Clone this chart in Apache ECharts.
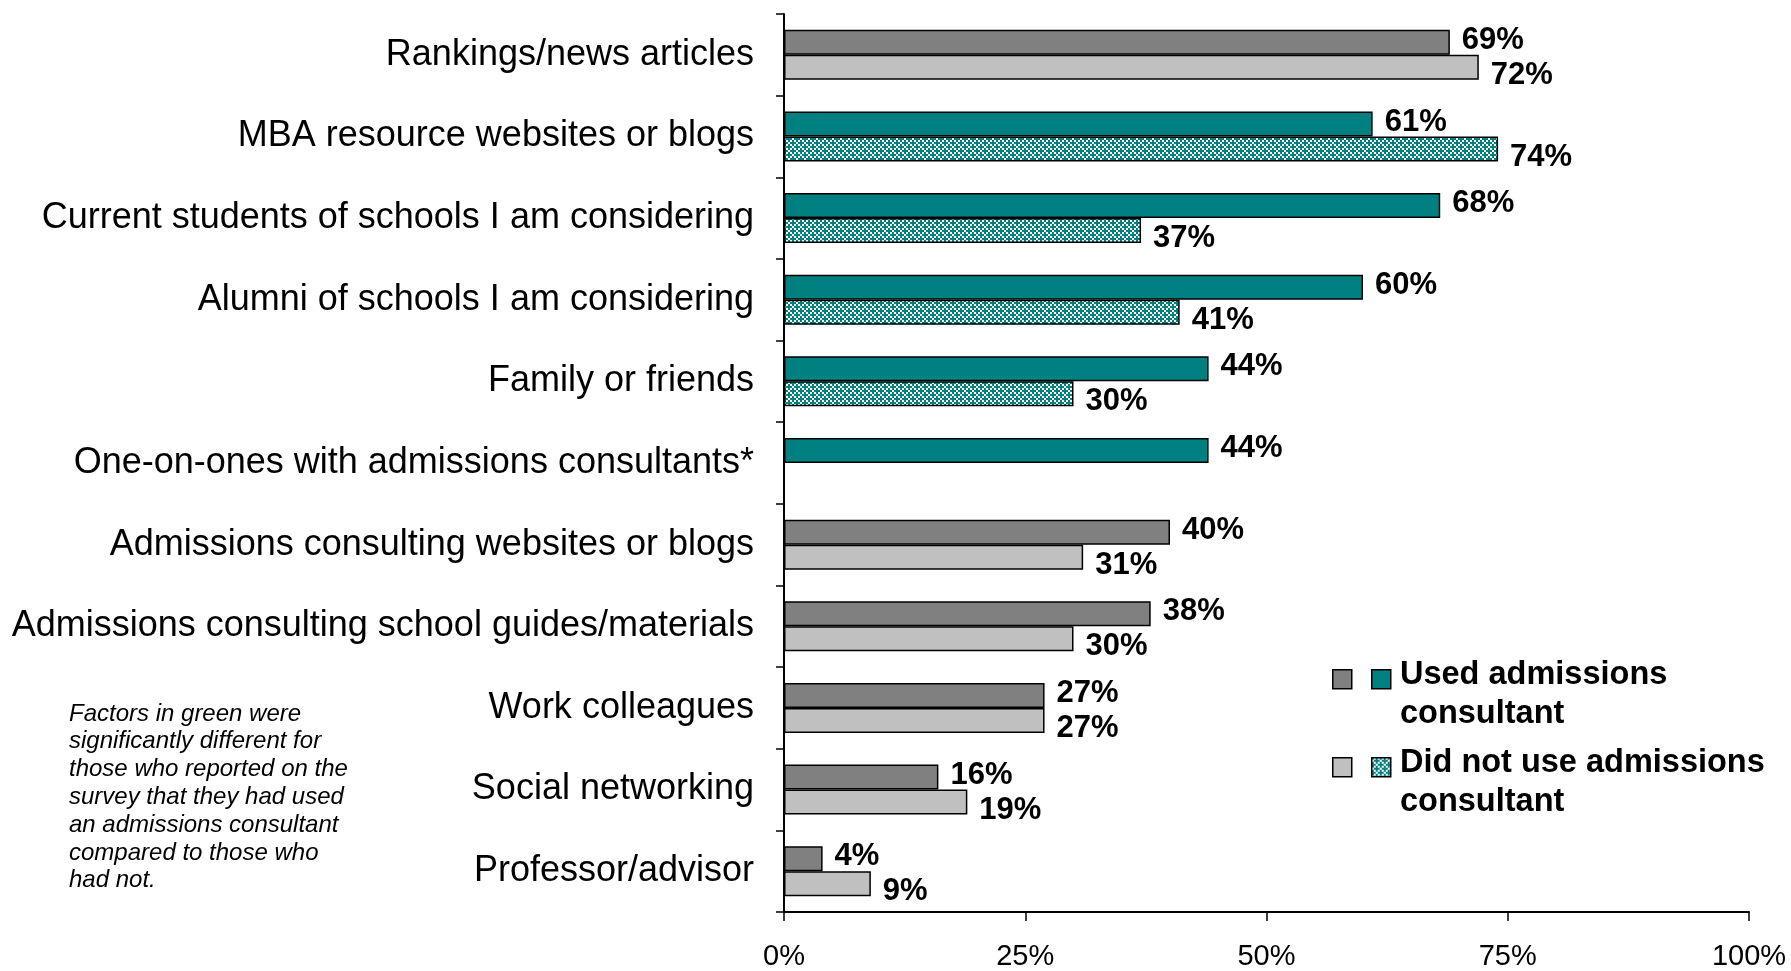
<!DOCTYPE html>
<html>
<head>
<meta charset="utf-8">
<script src="https://cdn.jsdelivr.net/npm/echarts@6/dist/echarts.min.js"></script>
<style>
  html, body { margin: 0; padding: 0; background: #fff; }
  #chart { width: 1791px; height: 971px; }
</style>
</head>
<body>
<div id="chart"></div>
<script>
// Information sources, top to bottom
const categories = [
  'Rankings/news articles',
  'MBA resource websites or blogs',
  'Current students of schools I am considering',
  'Alumni of schools I am considering',
  'Family or friends',
  'One-on-ones with admissions consultants*',
  'Admissions consulting websites or blogs',
  'Admissions consulting school guides/materials',
  'Work colleagues',
  'Social networking',
  'Professor/advisor'
];
// Share of respondents (%) using each source
const usedConsultant    = [69, 61, 68, 60, 44, 44, 40, 38, 27, 16, 4];
const notUsedConsultant = [72, 74, 37, 41, 30, null, 31, 30, 27, 19, 9];
// Sources where the two groups differ significantly (drawn in green)
const significant = [false, true, true, true, true, true, false, false, false, false, false];
const xTicks = [0, 25, 50, 75, 100];
const seriesNames = ['Used admissions consultant', 'Did not use admissions consultant'];
const noteLines = [
  'Factors in green were',
  'significantly different for',
  'those who reported on the',
  'survey that they had used',
  'an admissions consultant',
  'compared to those who',
  'had not.'
];

const TEAL = '#008080';
const DARK_GRAY = '#808080';
const LIGHT_GRAY = '#c0c0c0';
const FONT = "'Liberation Sans', Arial, sans-serif";
const NARROW = "'Liberation Sans Narrow', 'Arial Narrow', 'Liberation Sans', Arial, sans-serif";

// Dotted teal fill for the "did not use" bars of significant sources
function makePattern() {
  const cell = 2;
  const map = [
    '0101',
    '1000',
    '0101',
    '0010'
  ];
  const c = document.createElement('canvas');
  c.width = 4 * cell; c.height = 4 * cell;
  const ctx = c.getContext('2d');
  ctx.fillStyle = TEAL;
  ctx.fillRect(0, 0, c.width, c.height);
  ctx.fillStyle = '#ffffff';
  for (let r = 0; r < 4; r++) {
    for (let k = 0; k < 4; k++) {
      if (map[r][k] === '1') ctx.fillRect(k * cell, r * cell, cell, cell);
    }
  }
  return c;
}
const patternFill = { image: makePattern(), repeat: 'repeat' };

const usedData = usedConsultant.map((v, i) => ({
  value: v,
  itemStyle: { color: significant[i] ? TEAL : DARK_GRAY }
}));
const notUsedData = notUsedConsultant.map((v, i) => ({
  value: v,
  itemStyle: { color: significant[i] ? patternFill : LIGHT_GRAY }
}));

const valueLabel = (dy) => ({
  show: true,
  position: 'right',
  distance: 12,
  offset: [0, dy],
  formatter: (p) => p.value == null ? '' : p.value + '%',
  fontFamily: FONT,
  fontWeight: 'bold',
  fontSize: 31,
  color: '#000'
});

const chart = echarts.init(document.getElementById('chart'), null, { renderer: 'canvas' });

// Hand-built legend: gray swatch, teal swatch, then bold label
const LX1 = 1332, LX2 = 1371, LTX = 1400;
const legendRows = [
  { y: 669, plain: DARK_GRAY, teal: TEAL, text: 'Used admissions\nconsultant' },
  { y: 757, plain: LIGHT_GRAY, teal: patternFill, text: 'Did not use admissions\nconsultant' }
];
const graphics = [];
legendRows.forEach((row) => {
  graphics.push({
    type: 'rect', left: LX1, top: row.y,
    shape: { width: 19, height: 19 },
    style: { fill: row.plain, stroke: '#000', lineWidth: 1.5 }
  });
  graphics.push({
    type: 'rect', left: LX2, top: row.y,
    shape: { width: 19, height: 19 },
    style: { fill: row.teal, stroke: '#000', lineWidth: 1.5 }
  });
  graphics.push({
    type: 'text', left: LTX, top: row.y - 13,
    style: {
      text: row.text, font: 'bold 32.5px ' + FONT, fill: '#000', lineHeight: 39
    }
  });
});
// Significance note at lower left
graphics.push({
  type: 'text', left: 69, top: 700,
  style: {
    text: noteLines.join('\n'),
    font: 'italic 24px ' + NARROW,
    fill: '#000',
    lineHeight: 27.8
  }
});

chart.setOption({
  animation: false,
  backgroundColor: '#ffffff',
  grid: { left: 784, right: 42, top: 14, bottom: 47, containLabel: false },
  xAxis: {
    type: 'value',
    min: xTicks[0],
    max: xTicks[xTicks.length - 1],
    interval: xTicks[1] - xTicks[0],
    splitLine: { show: false },
    axisLine: { show: true, lineStyle: { color: '#000', width: 2 } },
    axisTick: { show: true, length: 9, lineStyle: { color: '#000', width: 1.5 } },
    axisLabel: {
      formatter: '{value}%',
      margin: 30,
      fontFamily: FONT,
      fontSize: 29,
      color: '#000'
    }
  },
  yAxis: {
    type: 'category',
    data: categories,
    inverse: true,
    axisLine: { show: true, lineStyle: { color: '#000', width: 2 } },
    axisTick: { show: true, length: 8, lineStyle: { color: '#000', width: 1.5 } },
    axisLabel: {
      margin: 30,
      fontFamily: FONT,
      fontSize: 36,
      color: '#000'
    }
  },
  series: [
    {
      name: seriesNames[0],
      type: 'bar',
      data: usedData,
      barWidth: 25,
      barGap: '0%',
      itemStyle: { borderColor: '#000', borderWidth: 1.5 },
      label: valueLabel(-2)
    },
    {
      name: seriesNames[1],
      type: 'bar',
      data: notUsedData,
      barWidth: 25,
      barGap: '0%',
      itemStyle: { borderColor: '#000', borderWidth: 1.5 },
      label: valueLabel(8)
    }
  ],
  graphic: graphics
});
</script>
</body>
</html>
